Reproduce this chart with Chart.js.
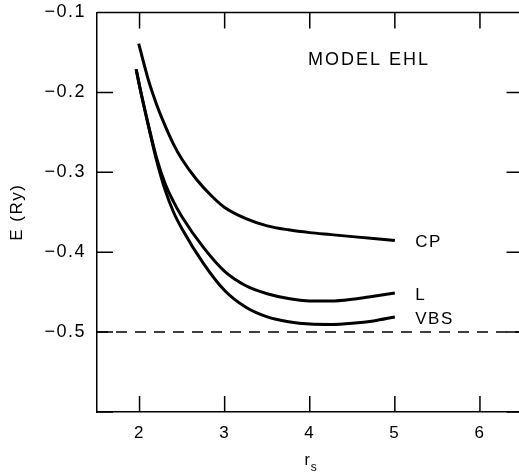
<!DOCTYPE html>
<html>
<head>
<meta charset="utf-8">
<script src="https://cdn.jsdelivr.net/npm/chart.js@4.4.1/dist/chart.umd.min.js"></script>
<style>
  html, body { margin: 0; padding: 0; background: #fff; overflow: hidden; }
  #wrap { width: 526px; height: 473px; }
</style>
</head>
<body>
<div id="wrap"><canvas id="grafico" width="526" height="473"></canvas></div>
<script>
// valores (r_s, E em Ry)
const rsCP = [1.99, 2.1, 2.2, 2.27, 2.4, 2.5, 2.67, 2.85, 3.0, 3.25, 3.5, 3.75, 4.0, 4.25, 4.5, 4.75, 5.0];
const eCP = [-0.139, -0.183, -0.215, -0.234, -0.265, -0.284, -0.309, -0.330, -0.344, -0.358, -0.367, -0.372, -0.3755, -0.378, -0.3805, -0.383, -0.3855];

const rsL = [1.96, 2.0, 2.1, 2.2, 2.3, 2.4, 2.5, 2.75, 3.0, 3.25, 3.5, 3.75, 4.0, 4.25, 4.5, 4.75, 5.0];
const eL = [-0.171, -0.192, -0.239, -0.282, -0.314, -0.337, -0.356, -0.394, -0.424, -0.442, -0.452, -0.458, -0.461, -0.4612, -0.459, -0.455, -0.451];

const rsVBS = [1.96, 2.0, 2.1, 2.2, 2.3, 2.4, 2.5, 2.75, 3.0, 3.25, 3.5, 3.75, 4.0, 4.25, 4.5, 4.75, 5.0];
const eVBS = [-0.171, -0.192, -0.240, -0.285, -0.322, -0.350, -0.371, -0.414, -0.448, -0.469, -0.481, -0.487, -0.490, -0.4905, -0.489, -0.486, -0.481];

const rsLimite = [1.5, 6.5];
const eLimite = [-0.5, -0.5];

const titulo = 'MODEL EHL';
const xTicks = [2, 3, 4, 5, 6];
const yTicks = [-0.6, -0.5, -0.4, -0.3, -0.2, -0.1];

const FONTE = '"Liberation Sans", Arial, Helvetica, sans-serif';

function pontos(xs, ys) {
    return xs.map((x, i) => ({ x, y: ys[i] }));
}

const series = [
    { nome: 'CP', xs: rsCP, ys: eCP },
    { nome: 'L', xs: rsL, ys: eL },
    { nome: 'VBS', xs: rsVBS, ys: eVBS }
];

// moldura, ticks internos e textos
const molduraPlugin = {
    id: 'moldura',
    beforeDraw(chart) {
        chart.ctx.letterSpacing = '1.5px';
    },
    afterDraw(chart) {
        const { ctx, chartArea: a, scales: { x, y } } = chart;
        ctx.save();
        ctx.strokeStyle = '#000';
        ctx.lineWidth = 1.5;
        ctx.beginPath();
        ctx.moveTo(a.left, a.top); ctx.lineTo(a.right, a.top);
        ctx.moveTo(a.right, a.top); ctx.lineTo(a.right, a.bottom);
        const tam = 16;
        xTicks.forEach(v => {
            const px = x.getPixelForValue(v);
            ctx.moveTo(px, a.bottom); ctx.lineTo(px, a.bottom - tam);
            ctx.moveTo(px, a.top); ctx.lineTo(px, a.top + tam);
        });
        yTicks.forEach(v => {
            const py = y.getPixelForValue(v);
            ctx.moveTo(a.left, py); ctx.lineTo(a.left + tam, py);
            ctx.moveTo(a.right, py); ctx.lineTo(a.right - tam, py);
        });
        ctx.stroke();

        ctx.fillStyle = '#000';
        ctx.textBaseline = 'middle';
        ctx.textAlign = 'left';
        ctx.letterSpacing = '1.5px';
        ctx.font = '17px ' + FONTE;
        series.forEach(s => {
            const yv = s.ys[s.ys.length - 1];
            ctx.fillText(s.nome, x.getPixelForValue(5.24), y.getPixelForValue(yv) + 2);
        });
        ctx.font = '18px ' + FONTE;
        ctx.letterSpacing = '2px';
        ctx.fillText(titulo, x.getPixelForValue(3.98), y.getPixelForValue(-0.159));

        // titulo do eixo x: r com s subscrito
        ctx.letterSpacing = '0px';
        const cx = (a.left + a.right) / 2;
        ctx.font = '16px ' + FONTE;
        ctx.textAlign = 'right';
        ctx.fillText('r', cx, 461);
        ctx.font = '12px ' + FONTE;
        ctx.textAlign = 'left';
        ctx.fillText('s', cx + 1, 468);
        ctx.restore();
    }
};

const datasets = series.map(s => ({
    label: s.nome,
    data: pontos(s.xs, s.ys),
    borderColor: '#000',
    borderWidth: 3,
    pointRadius: 0,
    fill: false,
    cubicInterpolationMode: 'monotone'
}));

datasets.push({
    label: 'limite',
    data: pontos(rsLimite, eLimite),
    borderColor: '#000',
    borderWidth: 1.5,
    borderDash: [11, 8],
    pointRadius: 0,
    fill: false
});

new Chart(document.getElementById('grafico').getContext('2d'), {
    type: 'line',
    data: { datasets },
    options: {
        responsive: false,
        animation: false,
        layout: { padding: { left: 0, top: 0, right: 3.5, bottom: 0 } },
        plugins: {
            legend: { display: false },
            tooltip: { enabled: false }
        },
        scales: {
            x: {
                type: 'linear',
                min: 1.5,
                max: 6.5,
                afterBuildTicks: scale => {
                    scale.ticks = xTicks.map(v => ({ value: v }));
                },
                afterFit: scale => { scale.height = 61; },
                grid: { display: false, drawTicks: false },
                border: { display: true, color: '#000', width: 1.5 },
                ticks: {
                    color: '#000',
                    padding: 11,
                    font: { family: FONTE, size: 17 },
                    callback: v => String(v)
                }
            },
            y: {
                type: 'linear',
                min: -0.6,
                max: -0.1,
                afterBuildTicks: scale => {
                    scale.ticks = yTicks.map(v => ({ value: v }));
                },
                afterFit: scale => {
                    scale.width = 97;
                    scale.paddingTop = 12.5;
                },
                grid: { display: false, drawTicks: false },
                border: { display: true, color: '#000', width: 1.5 },
                ticks: {
                    color: '#000',
                    padding: 11,
                    font: { family: FONTE, size: 18 },
                    callback: v => (Math.abs(v + 0.6) < 1e-9 ? '' : '\u2212' + Math.abs(v).toFixed(1))
                },
                title: {
                    display: true,
                    text: 'E (Ry)',
                    color: '#000',
                    padding: { top: 7, bottom: 0 },
                    font: { family: FONTE, size: 17 }
                }
            }
        }
    },
    plugins: [molduraPlugin]
});
</script>
</body>
</html>
